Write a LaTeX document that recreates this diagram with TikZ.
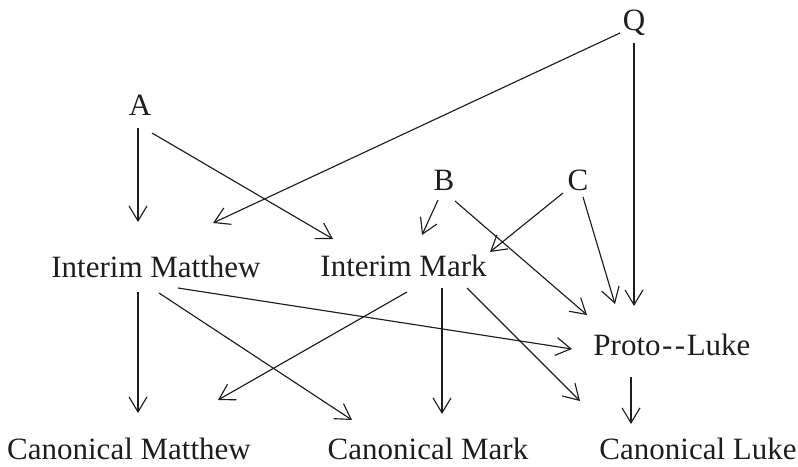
\documentclass[tikz,border=0pt]{standalone}
\usepackage{fontspec}
\setmainfont{Liberation Serif}
\usetikzlibrary{arrows.meta}
\definecolor{ink}{HTML}{1E1E1E}
\tikzset{
  lbl/.style={anchor=base, inner sep=0pt, text=ink, font=\fontsize{31}{36}\selectfont},
  arr/.style={draw=ink, line width=1.15pt, -{Straight Barb[length=15pt,width=18pt,line width=1.15pt]}}
}
\begin{document}
\begin{tikzpicture}[x=1pt,y=-1pt]
\useasboundingbox (0,0) rectangle (798,466);
\node[lbl] (Q)   at (634,30)   {Q};
\node[lbl] (A)   at (140,115)  {A};
\node[lbl] (B)   at (444,190)  {B};
\node[lbl] (C)   at (578,190)  {C};
\node[lbl] (IMt) at (156,277)  {Interim Matthew};
\node[lbl] (IMk) at (403.5,276) {Interim Mark};
\node[lbl] (PL)  at (672,355)  {Proto\kern1.5pt-\kern2.5pt-\kern1.5pt Luke};
\node[lbl] (CMt) at (129,459)  {Canonical Matthew};
\node[lbl] (CMk) at (428,459)  {Canonical Mark};
\node[lbl] (CL)  at (698,459)  {Canonical Luke};

\draw[arr] ([shift={(-2,13)}]A.base)   -- ([shift={(-18,-55)}]IMt.base);
\draw[arr] ([shift={(12,18)}]A.base)   -- ([shift={(-70.5,-37)}]IMk.base);
\draw[arr] ([shift={(-14,3)}]Q.base)   -- ([shift={(57,-54)}]IMt.base);
\draw[arr] ([shift={(-6,10)}]B.base)   -- ([shift={(18.5,-41)}]IMk.base);
\draw[arr] ([shift={(11,11)}]B.base)   -- ([shift={(-85,-40)}]PL.base);
\draw[arr] ([shift={(-15,3)}]C.base)   -- ([shift={(86.5,-24)}]IMk.base);
\draw[arr] ([shift={(5,7)}]C.base)     -- ([shift={(-57,-51)}]PL.base);
\draw[arr] ([shift={(0,13)}]Q.base)    -- ([shift={(-38,-49)}]PL.base);
\draw[arr] ([shift={(-18,15)}]IMt.base) -- ([shift={(9,-46)}]CMt.base);
\draw[arr] ([shift={(3,16)}]IMt.base)  -- ([shift={(-76,-39)}]CMk.base);
\draw[arr] ([shift={(22,11)}]IMt.base) -- ([shift={(-100,-6)}]PL.base);
\draw[arr] ([shift={(3.5,16)}]IMk.base) -- ([shift={(89,-59)}]CMt.base);
\draw[arr] ([shift={(38.5,12)}]IMk.base) -- ([shift={(14,-45)}]CMk.base);
\draw[arr] ([shift={(63.5,12)}]IMk.base) -- ([shift={(-118,-58)}]CL.base);
\draw[arr] ([shift={(-41,22)}]PL.base) -- ([shift={(-67,-35)}]CL.base);
\end{tikzpicture}
\end{document}
